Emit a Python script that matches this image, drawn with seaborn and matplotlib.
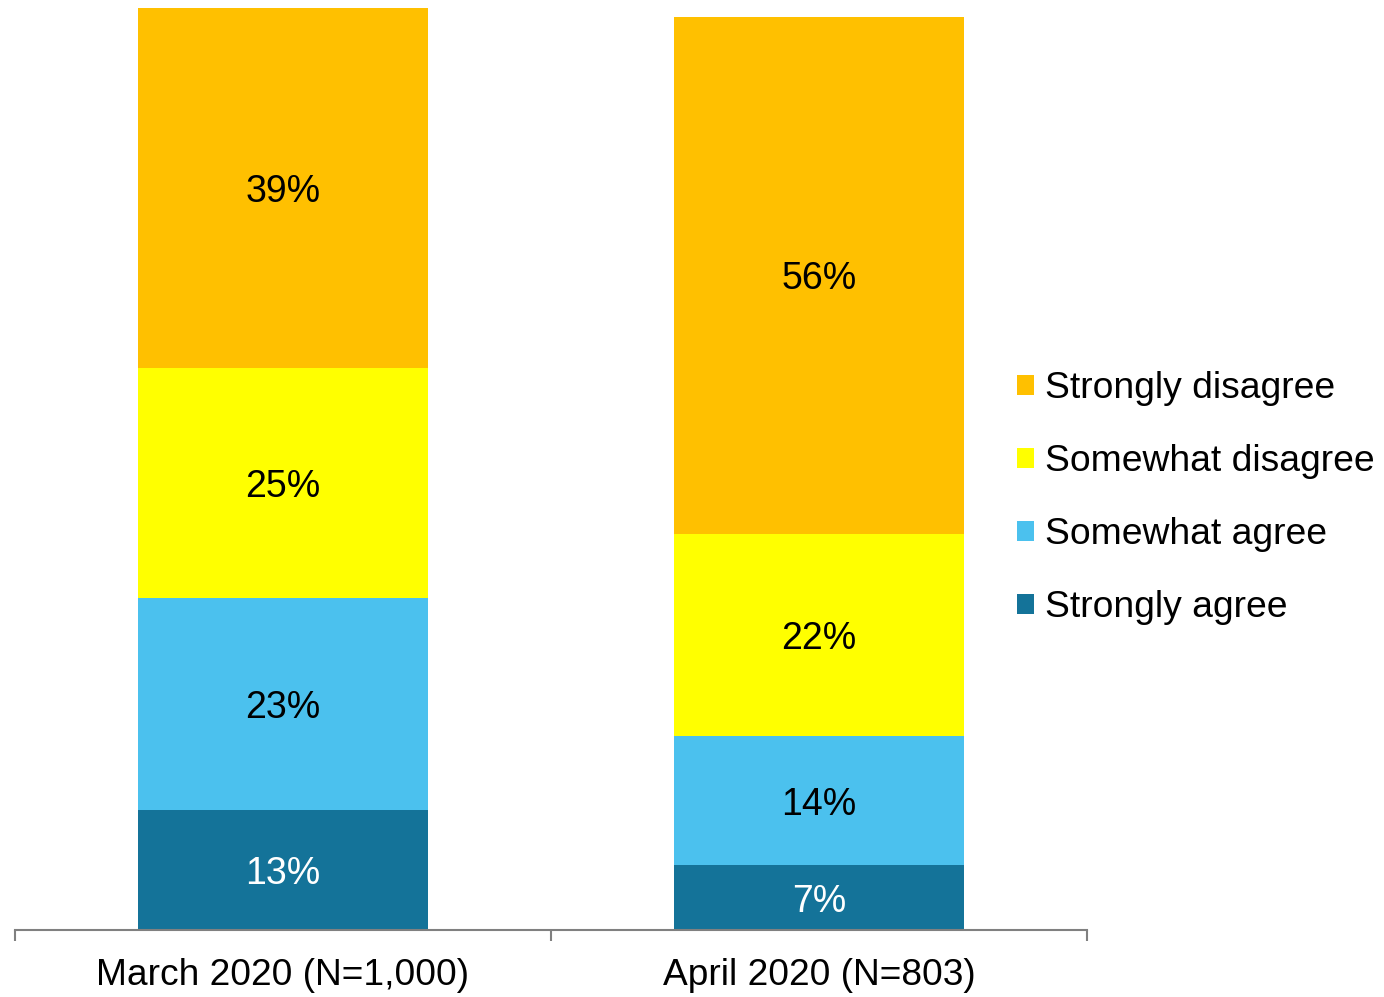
import numpy as np
import pandas as pd
import matplotlib
matplotlib.use('Agg')
import matplotlib.pyplot as plt
import seaborn as sns
from matplotlib.patches import Patch

# ── DATA ─────────────────────────────────────────────
periods = ['March 2020 (N=1,000)', 'April 2020 (N=803)']
strongly_agree    = [13, 7]
somewhat_agree    = [23, 14]
somewhat_disagree = [25, 22]
strongly_disagree = [39, 56]

series = ['Strongly agree', 'Somewhat agree', 'Somewhat disagree', 'Strongly disagree']
colors = ['#147399', '#4BC1EE', '#FFFF00', '#FFC000']
label_colors = ['white', 'black', 'black', 'black']

values = np.array([strongly_agree, somewhat_agree, somewhat_disagree, strongly_disagree])
cum = values.cumsum(axis=0)

sns.set_style("white")
plt.rcParams['font.family'] = ['Liberation Sans', 'DejaVu Sans']
plt.rcParams['text.color'] = 'black'
plt.rcParams['xtick.color'] = 'black'

fig = plt.figure(figsize=(13.84, 9.97), dpi=100)
ax = fig.add_axes([15 / 1384, 67 / 997, 1072 / 1384, 922 / 997])

# stacked bars: draw the tallest cumulative first, then overlay the smaller ones
for i in range(len(series) - 1, -1, -1):
    df = pd.DataFrame({'period': periods, 'value': cum[i]})
    sns.barplot(data=df, x='period', y='value', color=colors[i], width=0.54,
                saturation=1, ax=ax, linewidth=0)

# segment labels
for i in range(len(series)):
    for j in range(len(periods)):
        mid = cum[i, j] - values[i, j] / 2
        ax.text(j, mid, f'{values[i, j]}%', ha='center', va='center_baseline',
                fontsize=27, color=label_colors[i])

ax.set_ylim(0, 100)
ax.set_xlim(-0.5, 1.5)
ax.set_ylabel('')
ax.set_xlabel('')
ax.set_yticks([])

# category labels as minor ticks, boundaries as major ticks
ax.set_xticks([-0.5, 0.5, 1.5])
ax.set_xticklabels([])
ax.set_xticks([0, 1], minor=True)
ax.set_xticklabels(periods, minor=True, fontsize=26.7)
ax.tick_params(axis='x', which='major', bottom=True, length=8, width=1.5,
               color='#808080', direction='out')
ax.tick_params(axis='x', which='minor', bottom=True, length=0, pad=20, labelcolor='black')

for s in ['top', 'right', 'left']:
    ax.spines[s].set_visible(False)
ax.spines['bottom'].set_color('#808080')
ax.spines['bottom'].set_linewidth(1.5)

# legend, top entry = Strongly disagree
handles = [Patch(facecolor=colors[i], edgecolor='none', label=series[i])
           for i in range(len(series) - 1, -1, -1)]
fig.legend(handles=handles, loc='center left', bbox_to_anchor=(1002 / 1384, 1 - 498 / 997),
           frameon=False, fontsize=26.8, handlelength=0.45, handleheight=0.45,
           handletextpad=0.3, labelspacing=1.02, borderaxespad=0)

fig.savefig('out.png', dpi=100)
